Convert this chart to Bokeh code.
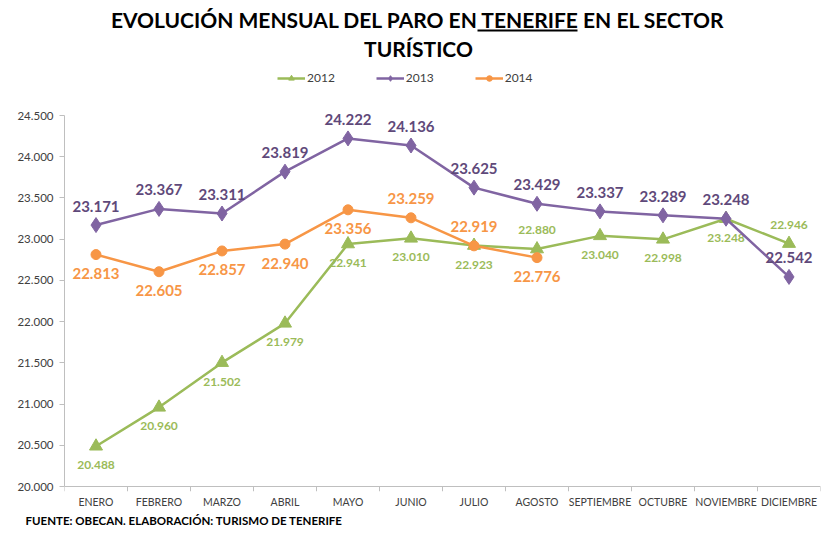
from bokeh.plotting import figure
from bokeh.models import (ColumnDataSource, FactorRange, Range1d, FixedTicker, Label, Legend,
                          LegendItem, BoxAnnotation, Title, CategoricalAxis, Span)
from bokeh.core.properties import value
from bokeh.embed import file_html
from bokeh.resources import INLINE

months = ["ENERO", "FEBRERO", "MARZO", "ABRIL", "MAYO", "JUNIO", "JULIO",
          "AGOSTO", "SEPTIEMBRE", "OCTUBRE", "NOVIEMBRE", "DICIEMBRE"]
paro_2012 = [20488, 20960, 21502, 21979, 22941, 23010, 22923, 22880, 23040, 22998, 23248, 22946]
paro_2013 = [23171, 23367, 23311, 23819, 24222, 24136, 23625, 23429, 23337, 23289, 23248, 22542]
paro_2014 = [22813, 22605, 22857, 22940, 23356, 23259, 22919, 22776]
y_ticks = [20000, 20500, 21000, 21500, 22000, 22500, 23000, 23500, 24000, 24500]
y_tick_labels = ["20.000", "20.500", "21.000", "21.500", "22.000", "22.500",
                 "23.000", "23.500", "24.000", "24.500"]

# label placement: 1 = above the point, -1 = below
pos_2012 = [-1, -1, -1, -1, -1, -1, -1, 1, -1, -1, -1, 1]
pos_2013 = [1] * 12
pos_2014 = [-1, -1, -1, -1, -1, 1, 1, -1]

FONT = "Lato"
C12, C13, C14 = "#9BBB59", "#8064A2", "#F79646"
C13_TXT = "#5F497A"
AXIS_C = "#BFBFBF"

Y_MIN, Y_MAX = 20000, 24500
W, H = 824, 537
BORDER_L, BORDER_R = 64, 4
AXIS_TOP_PX, AXIS_BOTTOM_PX = 115, 486   # pixel rows of the 24.500 and 20.000 ticks
TICK_PX = 5                               # x tick marks hang below the axis line
BORDER_B = H - AXIS_BOTTOM_PX - TICK_PX
per_px = (Y_MAX - Y_MIN) / (AXIS_BOTTOM_PX - AXIS_TOP_PX)
y_start = Y_MIN - TICK_PX * per_px
y_end = Y_MAX + AXIS_TOP_PX * per_px


def fmt(v):
    return f"{v:,}".replace(",", ".")


p = figure(x_range=FactorRange(factors=months), y_range=Range1d(y_start, y_end),
           width=W, height=H, output_backend="svg", toolbar_location=None,
           x_axis_location=None,
           min_border_left=BORDER_L, min_border_right=BORDER_R, min_border_top=0,
           min_border_bottom=BORDER_B)
p.outline_line_color = None
p.xgrid.grid_line_color = None
p.ygrid.grid_line_color = None
p.background_fill_color = "white"
p.border_fill_color = "white"

# y axis
p.yaxis.ticker = FixedTicker(ticks=y_ticks)
p.yaxis.bounds = (Y_MIN, Y_MAX)
p.yaxis.major_label_overrides = {t: l for t, l in zip(y_ticks, y_tick_labels)}
p.yaxis.major_tick_out = 5
p.yaxis.major_tick_in = 0
p.yaxis.minor_tick_line_color = None
p.yaxis.major_label_standoff = 6
p.yaxis.axis_line_color = AXIS_C
p.yaxis.major_tick_line_color = AXIS_C
p.yaxis.major_label_text_font = FONT
p.yaxis.major_label_text_color = "#404040"
p.yaxis.major_label_text_font_size = "11.5px"

# x axis line at 20.000 and tick marks on the category boundaries
p.add_layout(Span(location=Y_MIN, dimension="width", line_color=AXIS_C, line_width=1))
edges = list(range(len(months) + 1))
p.segment(x0=edges, y0=[Y_MIN] * len(edges), x1=edges, y1=[y_start] * len(edges),
          line_color=AXIS_C, line_width=1)
cat_axis = CategoricalAxis(axis_line_color=None, major_tick_line_color=None,
                           major_tick_out=0, major_tick_in=0, major_label_standoff=4,
                           major_label_text_font=FONT, major_label_text_color="#404040",
                           major_label_text_font_size="10.5px")
p.add_layout(cat_axis, "below")


def series(vals, pos, color, txt_color, marker, msize, label, tsize):
    x = months[:len(vals)]
    src = ColumnDataSource(dict(x=x, y=vals, t=[fmt(v) for v in vals],
                                dy=[-19 if s > 0 else 19 for s in pos]))
    lr = p.line("x", "y", source=src, line_color=color, line_width=2.5)
    sr = p.scatter("x", "y", source=src, marker=marker, size=msize,
                   fill_color=color, line_color=color)
    p.text("x", "y", text="t", source=src, y_offset="dy", text_align="center",
           text_baseline="middle", text_font=value(FONT), text_font_style="bold",
           text_font_size=tsize, text_color=txt_color)
    return LegendItem(label=label, renderers=[lr, sr])


items = [
    series(paro_2012, pos_2012, C12, C12, "triangle", 13, "2012", "12px"),
    series(paro_2013, pos_2013, C13, C13_TXT, "diamond", 15, "2013", "15px"),
    series(paro_2014, pos_2014, C14, C14, "circle", 10, "2014", "15px"),
]

# annotation screen coordinates are measured from the frame's bottom-left corner
fb = TICK_PX
legend = Legend(items=items, orientation="horizontal", location=(213, 401 + fb),
                background_fill_alpha=0, border_line_alpha=0, padding=0, margin=0,
                spacing=41, glyph_width=28, glyph_height=14, label_standoff=2,
                label_text_font=FONT, label_text_font_size="12px",
                label_text_color="#404040")
p.add_layout(legend)

p.add_layout(Label(x=354, y=467 + fb, x_units="screen", y_units="screen",
                   text="EVOLUCIÓN MENSUAL DEL PARO EN TENERIFE EN EL SECTOR",
                   text_align="center", text_baseline="alphabetic", text_font=FONT,
                   text_font_style="bold", text_font_size="21px", text_color="#000000"))
p.add_layout(Label(x=354, y=438 + fb, x_units="screen", y_units="screen",
                   text="TURÍSTICO", text_align="center", text_baseline="alphabetic",
                   text_font=FONT, text_font_style="bold", text_font_size="21px",
                   text_color="#000000"))
p.add_layout(BoxAnnotation(left=413, right=513, bottom=455 + fb, top=457 + fb,
                           left_units="screen", right_units="screen",
                           bottom_units="screen", top_units="screen",
                           fill_color="#000000", fill_alpha=1, line_alpha=0))
p.add_layout(Title(text="FUENTE: OBECAN. ELABORACIÓN: TURISMO DE TENERIFE",
                   align="left", offset=-39, text_font=FONT, text_font_style="bold",
                   text_font_size="11.5px", text_color="#000000", standoff=2), "below")

open("out.html", "w").write(file_html(p, INLINE))
